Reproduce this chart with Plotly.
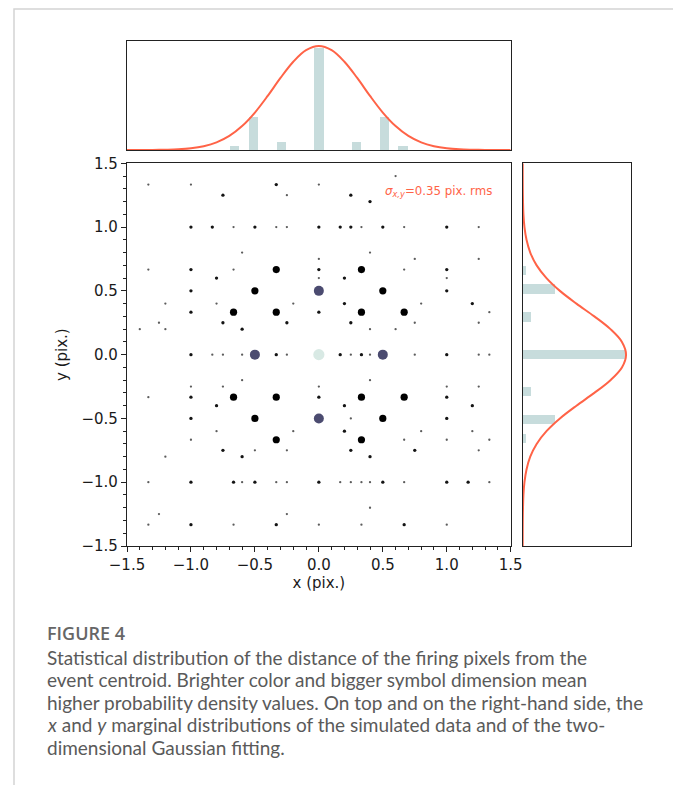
import numpy as np
import plotly.graph_objects as go

# page is 681x785; the html body adds an 8px margin, so the figure itself is 8px smaller
PAGE_W, PAGE_H = 681, 785
OFF = 8
W, H = PAGE_W - OFF, PAGE_H - OFF

# ---------------- data ----------------
# scatter: rows of points (y value of each row, x values, relative probability density)
row_y = [1.4, 1.333, 1.25, 1.2, 1.0, 0.8, 0.75, 0.667, 0.6, 0.5, 0.4, 0.333, 0.25, 0.2,
         0.0,
         -0.2, -0.25, -0.333, -0.4, -0.5, -0.6, -0.667, -0.75, -0.8, -1.0, -1.2, -1.25, -1.333]
row_x = [
    [0.6],
    [-1.333, -1.0, -0.333, 0.0],
    [-0.75, -0.25, 0.25],
    [0.4],
    [-1.0, -0.833, -0.667, -0.5, -0.333, -0.25, 0.0, 0.167, 0.25, 0.333, 0.5, 0.667, 1.0, 1.25],
    [-0.6, 0.4],
    [0.0, 0.75, 1.25],
    [-1.333, -1.0, -0.667, -0.333, 0.0, 0.333, 0.667, 1.0],
    [-0.8, 0.0, 0.2, 1.0],
    [-1.0, -0.5, 0.0, 0.5, 1.0],
    [-1.2, -0.8, -0.2, 0.2, 0.8, 1.2],
    [-1.0, -0.667, -0.333, 0.0, 0.333, 0.667, 1.333],
    [-1.25, -0.75, -0.25, 0.25, 0.75, 1.25],
    [-1.4, -1.2, -0.6, 0.4, 0.6],
    [-1.0, -0.833, -0.75, -0.6, -0.5, -0.333, -0.25, 0.0, 0.167, 0.25, 0.333, 0.4, 0.5, 0.75, 1.0, 1.25, 1.333],
    [-0.6, 0.4],
    [-1.0, -0.75, 0.0, 1.0, 1.25],
    [-1.333, -1.0, -0.667, -0.333, 0.0, 0.333, 0.667, 1.0],
    [-0.8, 0.2, 1.2],
    [-1.0, -0.5, 0.0, 0.25, 0.5, 1.0],
    [-0.8, -0.2, 0.2, 0.8, 1.2],
    [-1.0, -0.333, 0.333, 0.667, 1.0, 1.333],
    [-0.75, -0.5, -0.25, 0.25, 0.75, 1.25],
    [-1.2, -0.6, 0.4],
    [-1.333, -1.0, -0.667, -0.6, -0.5, -0.333, -0.25, 0.0, 0.167, 0.25, 0.333, 0.4, 0.5, 0.667, 1.0, 1.167, 1.333],
    [0.4],
    [-1.25, -0.25],
    [-1.333, -1.0, -0.667, -0.333, 0.0, 0.333, 0.667, 1.0],
]
row_density = [
    [1],
    [1, 1, 2, 1],
    [2, 1, 2],
    [2],
    [2, 2, 1, 2, 1, 1, 2, 2, 2, 1, 2, 1, 2, 1],
    [1, 1],
    [1, 1, 1],
    [1, 2, 1, 8, 2, 8, 1, 2],
    [2, 1, 2, 1],
    [2, 8, 20, 8, 2],
    [1, 1, 1, 2, 1, 2],
    [2, 8, 8, 2, 8, 8, 1],
    [1, 2, 2, 2, 1, 1],
    [1, 1, 2, 1, 1],
    [2, 1, 1, 1, 20, 2, 1, 40, 2, 1, 2, 1, 20, 1, 2, 1, 1],
    [1, 1],
    [1, 1, 1, 1, 1],
    [1, 2, 8, 8, 2, 8, 8, 2],
    [2, 2, 2],
    [2, 8, 20, 1, 8, 2],
    [1, 1, 2, 1, 1],
    [1, 8, 8, 1, 1, 1],
    [2, 1, 1, 2, 2, 1],
    [1, 2, 2],
    [1, 2, 2, 1, 2, 1, 1, 2, 1, 1, 1, 1, 2, 1, 2, 2, 1],
    [1],
    [1, 1],
    [1, 2, 1, 2, 1, 1, 2, 1],
]

# marginal histograms (bin centres, heights relative to the fitted Gaussian peak)
bin_centers = [-0.659, -0.512, -0.293, 0.0, 0.293, 0.512, 0.659]
hist_x_heights = [0.04, 0.32, 0.08, 0.985, 0.08, 0.32, 0.04]
hist_y_heights = [0.032, 0.31, 0.077, 0.99, 0.077, 0.31, 0.032]
bin_width = 0.0732

# fitted Gaussian (sigma = 0.35 pix.), read as relative height
fit_pos = [-1.5, -1.4, -1.3, -1.2, -1.1, -1.0, -0.9, -0.8, -0.7, -0.6, -0.5, -0.4, -0.3, -0.2, -0.1,
           0.0, 0.1, 0.2, 0.3, 0.4, 0.5, 0.6, 0.7, 0.8, 0.9, 1.0, 1.1, 1.2, 1.3, 1.4, 1.5]
fit_val = [0.0, 0.0003, 0.001, 0.003, 0.007, 0.017, 0.037, 0.073, 0.135, 0.230, 0.360, 0.520, 0.693, 0.849, 0.960,
           1.0, 0.960, 0.849, 0.693, 0.520, 0.360, 0.230, 0.135, 0.073, 0.037, 0.017, 0.007, 0.003, 0.001, 0.0003, 0.0]

tick_vals = [-1.5, -1.0, -0.5, 0.0, 0.5, 1.0, 1.5]
tick_text = ["\u22121.5", "\u22121.0", "\u22120.5", "0.0", "0.5", "1.0", "1.5"]

# ---------------- build ----------------
px, py, pd = [], [], []
for yv, xs, ds in zip(row_y, row_x, row_density):
    for xv, dv in zip(xs, ds):
        px.append(xv); py.append(yv); pd.append(dv)
px = np.array(px); py = np.array(py); pd = np.array(pd, dtype=float)
order = np.argsort(pd, kind="stable")
px, py, pd = px[order], py[order], pd[order]
sizes = np.interp(pd, [1, 2, 8, 20, 40], [2.3, 3.3, 7.2, 10.0, 11.2])

bone_like = [[0.0, "#5c5c5c"], [0.0256, "#141414"], [0.18, "#000000"], [0.487, "#4b4b70"], [1.0, "#d8e9e4"]]

BAR = "#c7dcdc"
RED = "#ff6347"

fig = go.Figure()
fig.add_trace(go.Scatter(
    x=px, y=py, mode="markers", xaxis="x", yaxis="y",
    marker=dict(size=sizes, color=pd, colorscale=bone_like, cmin=1, cmax=40, opacity=1,
                line=dict(width=0)),
    showlegend=False, hoverinfo="skip"))

fig.add_trace(go.Bar(x=bin_centers, y=hist_x_heights, width=bin_width, xaxis="x2", yaxis="y2",
                     marker=dict(color=BAR, line=dict(width=0)), showlegend=False))
fig.add_trace(go.Scatter(x=fit_pos, y=fit_val, mode="lines", line=dict(color=RED, width=2, shape="spline"),
                         xaxis="x2", yaxis="y2", showlegend=False))

fig.add_trace(go.Bar(y=bin_centers, x=hist_y_heights, width=bin_width, orientation="h", xaxis="x3", yaxis="y3",
                     marker=dict(color=BAR, line=dict(width=0)), showlegend=False))
fig.add_trace(go.Scatter(y=fit_pos, x=fit_val, mode="lines", line=dict(color=RED, width=2, shape="spline"),
                         xaxis="x3", yaxis="y3", showlegend=False))

def px2x(X):
    """page pixel -> paper fraction"""
    return (X - OFF) / W

def px2y(Y):
    return 1 - (Y - OFF) / H

main_x = [px2x(127), px2x(510.7)]
main_y = [px2y(546), px2y(163.3)]
top_y = [px2y(150), px2y(41)]
right_x = [px2x(522.7), px2x(630.7)]

LINE = "#222222"
tickfont = dict(family="DejaVu Sans", size=15, color="#1a1a1a")
frame = dict(showline=True, mirror=True, linecolor=LINE, linewidth=1.2, showgrid=False, zeroline=False,
             automargin=False)

fig.update_layout(
    template="none",
    width=W, height=H, margin=dict(l=0, r=0, t=0, b=0, pad=0, autoexpand=False),
    paper_bgcolor="white", plot_bgcolor="white", bargap=0,
    xaxis=dict(domain=main_x, range=[-1.5, 1.5], tickvals=tick_vals, ticktext=tick_text,
               ticks="outside", ticklen=5, tickwidth=1, tickcolor=LINE, tickfont=tickfont,
               minor=dict(ticks="outside", ticklen=2.5, dtick=0.1, tick0=0, tickcolor=LINE, showgrid=False),
               title=dict(text="x (pix.)", font=dict(family="DejaVu Sans", size=15, color="#1a1a1a"), standoff=4),
               anchor="y", **frame),
    yaxis=dict(domain=main_y, range=[-1.5, 1.5], tickvals=tick_vals, ticktext=tick_text,
               ticks="outside", ticklen=5, tickwidth=1, tickcolor=LINE, tickfont=tickfont,
               minor=dict(ticks="outside", ticklen=2.5, dtick=0.1, tick0=0, tickcolor=LINE, showgrid=False),
               title=dict(text="y (pix.)", font=dict(family="DejaVu Sans", size=15, color="#1a1a1a"), standoff=10),
               anchor="x", **frame),
    xaxis2=dict(domain=main_x, range=[-1.5, 1.5], showticklabels=False, ticks="", anchor="y2", **frame),
    yaxis2=dict(domain=top_y, range=[0, 1.048], showticklabels=False, ticks="", anchor="x2", **frame),
    xaxis3=dict(domain=right_x, range=[0, 1.045], showticklabels=False, ticks="", anchor="y3", **frame),
    yaxis3=dict(domain=main_y, range=[-1.5, 1.5], showticklabels=False, ticks="", anchor="x3", **frame),
)

fig.add_annotation(x=0.5, y=1.28, xref="x", yref="y", xanchor="left", yanchor="middle", showarrow=False,
                   text="<i>σ</i><sub><i>x,y</i></sub>=0.35 pix. rms",
                   font=dict(family="DejaVu Sans", size=11.8, color=RED))

# outer frame of the figure box (top edge kept just inside the drawable area)
fig.add_shape(type="rect", xref="paper", yref="paper", x0=px2x(14), x1=px2x(675), y0=-0.05, y1=px2y(9),
              line=dict(color="#d4d4d4", width=1.5), fillcolor="rgba(0,0,0,0)", layer="below")

cap_font = dict(family="Lato", size=19, color="#5a5a5a")
fig.add_annotation(x=px2x(45), y=px2y(632.5), xref="paper", yref="paper", xanchor="left", yanchor="middle",
                   showarrow=False, text="FIGURE 4",
                   font=dict(family="Open Sans", size=18, color="#666666", weight=600))
caption_lines = [
    "Statistical distribution of the distance of the firing pixels from the",
    "event centroid. Brighter color and bigger symbol dimension mean",
    "higher probability density values. On top and on the right-hand side, the",
    "<i>x</i> and <i>y</i> marginal distributions of the simulated data and of the two-",
    "dimensional Gaussian fitting.",
]
for i, line in enumerate(caption_lines):
    fig.add_annotation(x=px2x(45), y=px2y(657 + 22.6 * i), xref="paper", yref="paper",
                       xanchor="left", yanchor="middle", showarrow=False, text=line, font=cap_font)

fig.write_html("out.html")
